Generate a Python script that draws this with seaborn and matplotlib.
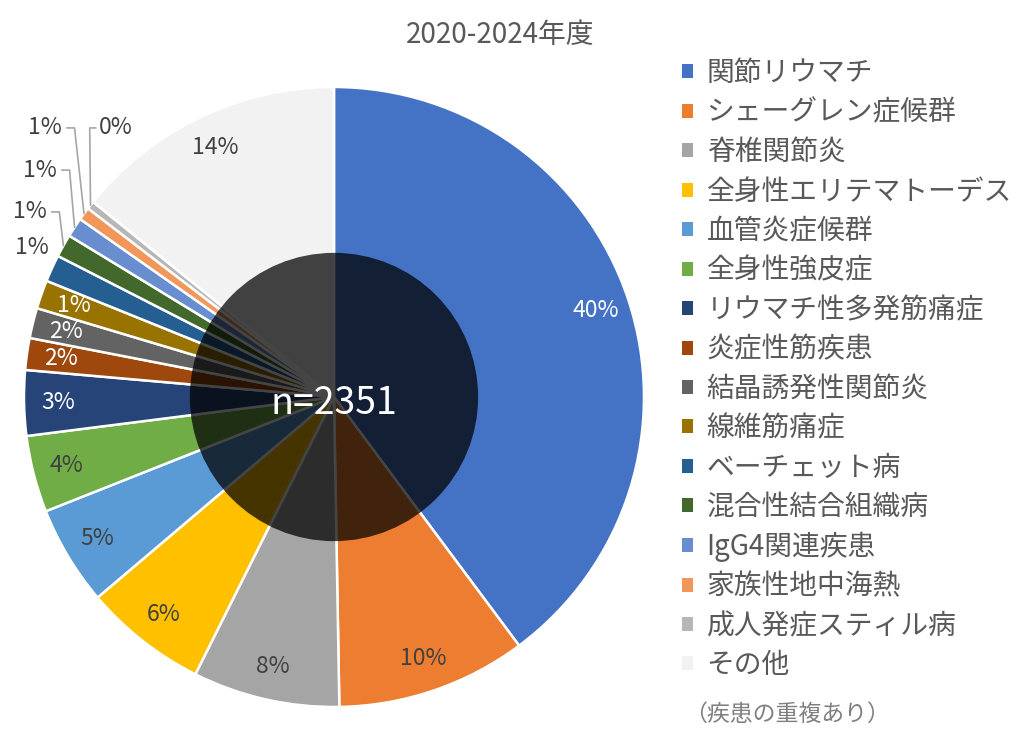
import matplotlib
matplotlib.use("Agg")
import matplotlib.pyplot as plt
import seaborn as sns
from matplotlib.patches import Patch, Circle
import numpy as np

# data (counts, total n=2351)
diseases = ["関節リウマチ", "シェーグレン症候群", "脊椎関節炎", "全身性エリテマトーデス",
            "血管炎症候群", "全身性強皮症", "リウマチ性多発筋痛症", "炎症性筋疾患",
            "結晶誘発性関節炎", "線維筋痛症", "ベーチェット病", "混合性結合組織病",
            "IgG4関連疾患", "家族性地中海熱", "成人発症スティル病", "その他"]
counts = [936, 233, 180, 151, 122, 94, 80, 39, 37, 35, 33, 28, 24, 16, 10, 333]
colors = ["#4472C4", "#ED7D31", "#A5A5A5", "#FFC000", "#5B9BD5", "#70AD47",
          "#264478", "#9E480E", "#636363", "#997300", "#255E91", "#43682B",
          "#698ED0", "#F1975A", "#B7B7B7", "#F2F2F2"]
title = "2020-2024年度"
n_total = 2351

sns.set_theme(style="white")
plt.rcParams["font.family"] = ["Noto Sans CJK JP", "DejaVu Sans"]

fig = plt.figure(figsize=(10.24, 7.41), dpi=100)
ax = fig.add_axes([0.0234, 0.0459, 0.6055, 0.8367])

pal = sns.color_palette(colors)
wedges, texts, autotexts = ax.pie(
    counts, colors=pal, startangle=90, counterclock=False,
    autopct="%1.0f%%", pctdistance=0.89,
    wedgeprops=dict(edgecolor="white", linewidth=1.8),
    textprops=dict(fontsize=16.5, color="#404040"))
ax.set_xlim(-1, 1)
ax.set_ylim(-1, 1)
ax.set_aspect("equal")
ax.axis("off")

# label colours: white on dark slices
white_idx = [0, 6, 7, 8, 9]
for i, t in enumerate(autotexts):
    if i in white_idx:
        t.set_color("white")

# small slices: labels outside with leader lines
outside = {10: (-0.974, 0.481, False),
           11: (-0.981, 0.597, True),
           12: (-0.948, 0.732, True),
           13: (-0.932, 0.868, True),
           14: (-0.703, 0.868, True)}
for i, (tx, ty, line) in outside.items():
    t = autotexts[i]
    t.set_position((tx, ty))
    t.set_color("#404040")
    if line:
        w = wedges[i]
        mid = np.deg2rad((w.theta1 + w.theta2) / 2)
        axp, ayp = np.cos(mid) * 1.0, np.sin(mid) * 1.0
        if i == 14:
            xs = [tx - 0.065, tx - 0.085, axp]
            ys = [ty, ty, ayp]
        else:
            xs = [tx + 0.07, tx + 0.095, axp]
            ys = [ty, ty, ayp]
        ax.plot(xs, ys, color="#A6A6A6", lw=1.2, zorder=1, clip_on=False)

# dark translucent centre
ax.add_patch(Circle((0, 0), 0.465, facecolor="black", alpha=0.73,
                    edgecolor="none", zorder=5))
ax.text(0, -0.02, f"n={n_total}", ha="center", va="center",
        fontsize=27, color="white", zorder=6)

fig.text(0.488, 0.953, title, ha="center", va="center",
         fontsize=20, color="#595959")

handles = [Patch(facecolor=c, edgecolor="none") for c in colors]
fig.legend(handles, diseases, loc="upper left", bbox_to_anchor=(0.652, 0.94),
           frameon=False, fontsize=20, handlelength=0.4, handleheight=0.4,
           handletextpad=0.5, labelspacing=0.34, borderpad=0,
           labelcolor="#595959")

fig.text(0.668, 0.036, "（疾患の重複あり）", ha="left", va="center",
         fontsize=16.5, color="#7F7F7F")

plt.savefig("out.png", dpi=100)
